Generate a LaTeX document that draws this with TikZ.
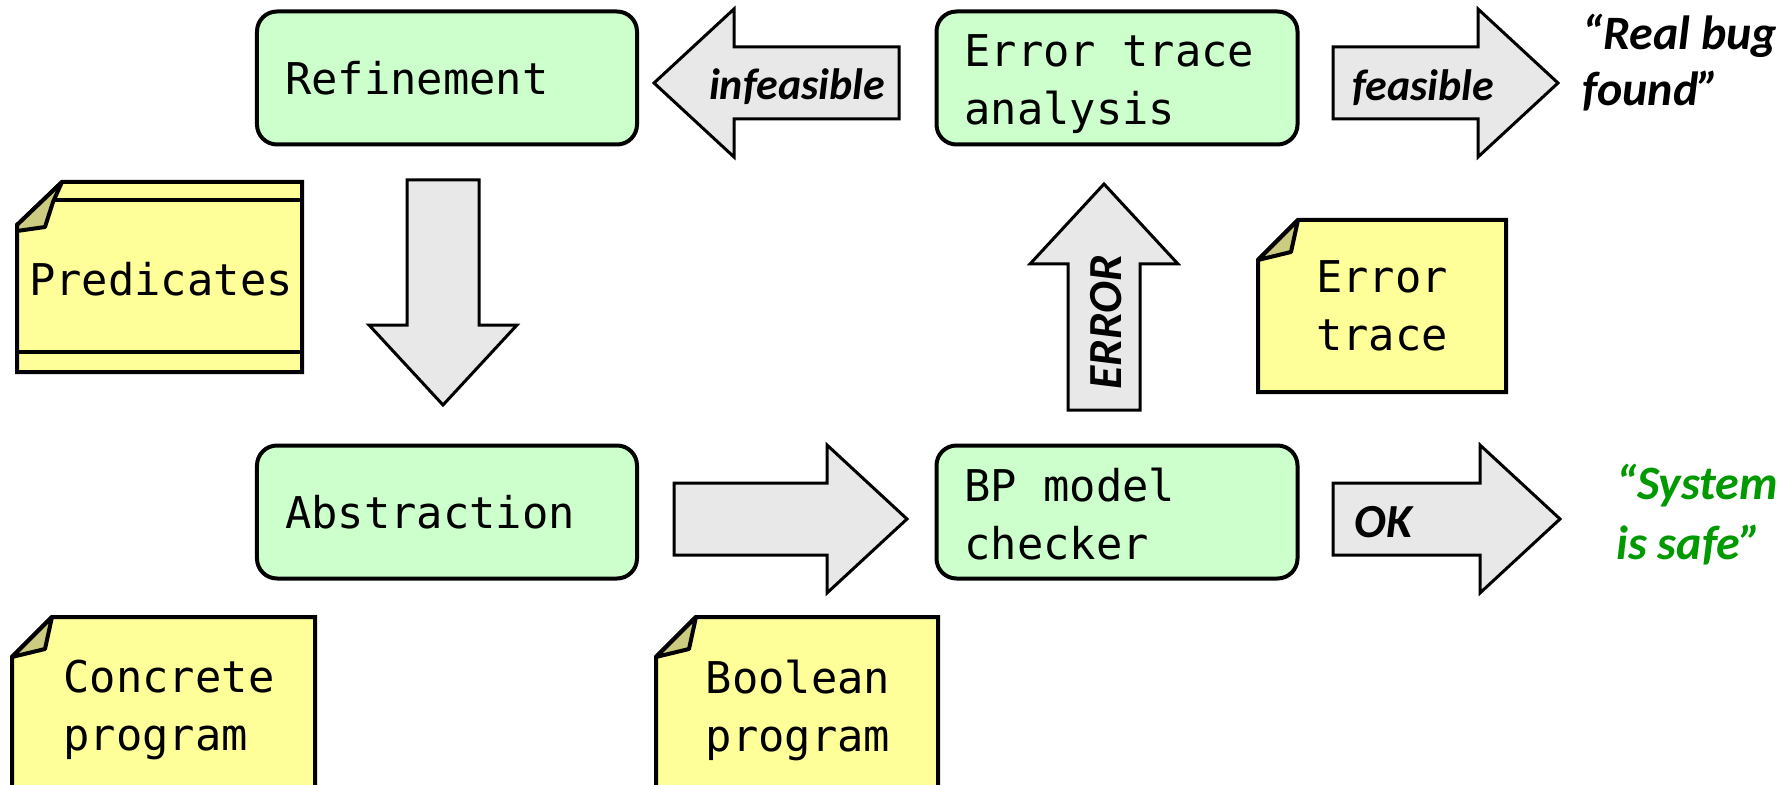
\documentclass[tikz,border=0pt]{standalone}
\usepackage{fontspec}
\setmonofont{DejaVu Sans Mono}
\newfontfamily\calibri{Carlito}
\usetikzlibrary{calc,positioning}
\definecolor{stagegreen}{HTML}{CCFFCC}
\definecolor{memoyellow}{HTML}{FFFF99}
\definecolor{flapolive}{HTML}{CCCC80}
\definecolor{arrowgray}{HTML}{E8E8E8}
\definecolor{safegreen}{HTML}{009900}
\newcommand{\monotext}{\ttfamily\fontsize{24.9}{33}\selectfont\spaceskip=0.602em\relax}
\newcommand{\arrowfont}{\calibri\bfseries\itshape\fontsize{25}{30}\selectfont}
\newcommand{\verdictfont}{\calibri\bfseries\itshape\fontsize{27.3}{34}\selectfont}
\newcommand{\fatarrow}[3]{\draw[fatbody,shift={(#1)},rotate=#2] (0,-36)--(#3-80,-36)--(#3-80,-74)--(#3,0)--(#3-80,74)--(#3-80,36)--(0,36)--cycle;}
\newcommand{\memo}[4]{\filldraw[memobody] (#1,#2+40)--(#1+40,#2)--(#3,#2)--(#3,#4)--(#1,#4)--cycle;
  \filldraw[memoflap] (#1,#2+40)--(#1+33,#2+32)--(#1+40,#2)--cycle;}
\tikzset{
  stage/.style={draw,line width=0.8mm,rounded corners=4mm,fill=stagegreen,align=flush left,font=\monotext,inner xsep=5.6mm,inner ysep=0pt,minimum height=26.6mm},
  memobody/.style={draw,line width=0.8mm,fill=memoyellow},
  memoflap/.style={draw,line width=0.8mm,fill=flapolive,line join=round},
  memotext/.style={align=left,font=\monotext,inner sep=0pt},
  fatbody/.style={draw,line width=0.6mm,fill=arrowgray},
  arrowlab/.style={font=\arrowfont,inner sep=0pt},
  verdict/.style={align=left,font=\verdictfont,inner sep=0pt,anchor=north west}
}

\begin{document}
\begin{tikzpicture}[x=0.2mm,y=-0.2mm]
\useasboundingbox (0,0) rectangle (1783,785);
\clip (0,0) rectangle (1783,785);
\fill[white] (0,0) rectangle (1783,785);
% stages of the loop
\node[stage,text width=64.8mm] (refine) at (447,78) {Refinement};
\node[stage,text width=61mm,text height=25pt] (trace) at (1117,78) {Error trace\\analysis};
\node[stage,text width=64.8mm] (abstr) at (447,512) {Abstraction};
\node[stage,text width=61mm,text height=21.7pt] (checker) at (1117,512) {BP model\\checker};
% block arrows
\fatarrow{443,180}{-90}{225}\fatarrow{1104,410}{90}{226}\fatarrow{674,519}{0}{233}
\fatarrow{899,83}{180}{245}\fatarrow{1333,83}{0}{225}\fatarrow{1333,519}{0}{227}
\node[arrowlab,anchor=base] (infeas) at (797,100) {infeasible};
\node[arrowlab,anchor=base west] (feas) at (1352,101) {feasible};
\node[arrowlab,anchor=base west,font=\arrowfont\fontsize{27}{30}\selectfont] (ok) at (1354,537) {OK};
\node[arrowlab,rotate=90,anchor=base,font=\arrowfont\fontsize{27}{30}\selectfont] (err) at (1121,322) {ERROR};
\node[verdict,font=\verdictfont\fontsize{27.3}{31.5}\selectfont] (bug) at (1582,14) {“Real bug\\found”};
\node[verdict,text=safegreen] (safe) at (1616,464) {“System\\is safe”};
% notes
\filldraw[memobody] (17,225)--(62,182)--(302,182)--(302,372)--(17,372)--cycle;
\draw[line width=0.8mm] (53,200)--(302,200) (17,352)--(302,352);
\filldraw[memoflap] (17,225)--(17,231)--(45,227)--(53,202)--(62,182)--cycle;
\memo{1258}{220}{1506}{392}\memo{12}{617}{315}{800}\memo{656}{617}{938}{800}
\node[memotext] (preds) at (161,279) {Predicates};
\node[memotext] (errtrace) at (1382,306) {Error\\trace};
\node[memotext] (concrete) at (169,710) {Concrete\\program};
\node[memotext] (boolprog) at (798,710) {Boolean\\program};
\end{tikzpicture}
\end{document}
